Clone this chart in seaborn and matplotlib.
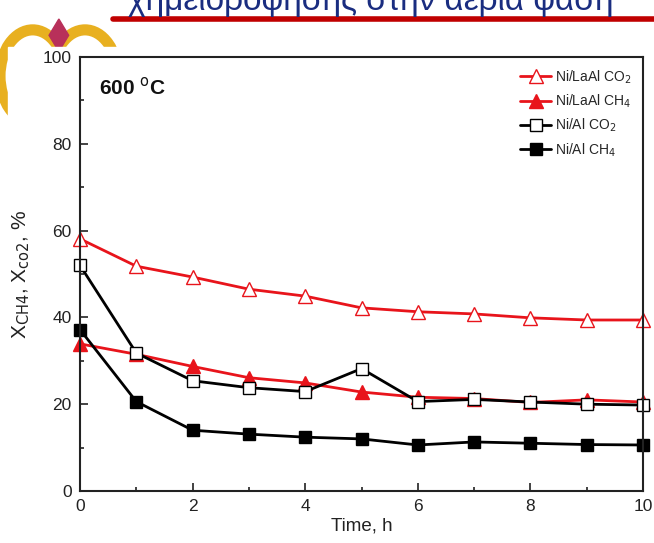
import numpy as np
import pandas as pd
import seaborn as sns
import matplotlib.pyplot as plt
from matplotlib.patches import Ellipse, Rectangle, Polygon

# data
time_h = [0, 1, 2, 3, 4, 5, 6, 7, 8, 9, 10]
lala_co2 = [58.1, 51.8, 49.3, 46.5, 44.9, 42.2, 41.3, 40.8, 39.9, 39.4, 39.4]
lala_ch4 = [33.9, 31.5, 28.7, 26.1, 24.9, 22.8, 21.6, 21.3, 20.4, 21.0, 20.5]
al_co2 = [52.0, 31.8, 25.4, 23.8, 22.9, 28.2, 20.6, 21.1, 20.5, 20.0, 19.8]
al_ch4 = [37.2, 20.6, 14.0, 13.1, 12.4, 12.0, 10.6, 11.3, 11.0, 10.7, 10.6]

series = [
    ('Ni/LaAl CO$_2$', lala_co2, '#e8141b', '^', 'white'),
    ('Ni/LaAl CH$_4$', lala_ch4, '#e8141b', '^', '#e8141b'),
    ('Ni/Al CO$_2$', al_co2, 'black', 's', 'white'),
    ('Ni/Al CH$_4$', al_ch4, 'black', 's', 'black'),
]

sns.set_style('ticks')
plt.rcParams['font.family'] = ['Liberation Sans', 'DejaVu Sans']

fig = plt.figure(figsize=(6.54, 5.43), dpi=100)

# slide decoration: header text (cut at the top like the slide), red rule, logo
fig.text(0.195, 0.982, 'χημειορόφησης στην αέρια φάση', color='#1a2d80',
         fontsize=24, ha='left', va='baseline', zorder=3)
fig.add_artist(plt.Line2D([0.173, 1.0], [0.965, 0.965], color='#c00000', lw=4,
                          transform=fig.transFigure))
for cx in [0.05, 0.13]:
    fig.add_artist(Ellipse((cx, 0.86), 0.10, 0.17, fill=False, ec='#e8b020', lw=8,
                           transform=fig.transFigure, zorder=1))
fig.add_artist(Polygon([[0.09, 0.965], [0.105, 0.935], [0.09, 0.905], [0.075, 0.935]],
                       closed=True, color='#b8305a', transform=fig.transFigure, zorder=1.1))
fig.add_artist(Rectangle((0.012, 0.0), 0.988, 0.913, color='white',
                         transform=fig.transFigure, zorder=1.5))

ax = fig.add_axes([0.1223, 0.0958, 0.8610, 0.7992])
ax.set_zorder(2)
ax.patch.set_alpha(0)

for label, vals, col, mk, face in series:
    df = pd.DataFrame({'time': time_h, 'conv': vals})
    sns.lineplot(data=df, x='time', y='conv', ax=ax, color=col, lw=2,
                 marker=mk, markersize=10 if mk == '^' else 9,
                 markerfacecolor=face, markeredgecolor=col, markeredgewidth=1,
                 label=label, clip_on=False)

ax.set_xlim(0, 10)
ax.set_ylim(0, 100)
ax.set_xticks(np.arange(0, 11, 2))
ax.set_xticks(np.arange(1, 10, 2), minor=True)
ax.set_yticks(np.arange(0, 101, 20))
ax.set_yticks(np.arange(10, 100, 20), minor=True)
ax.tick_params(direction='in', which='major', length=6, width=1.2, labelsize=12.5,
               pad=6, colors='#222222', labelcolor='#222222')
ax.tick_params(direction='in', which='minor', length=3, width=1.2, colors='#222222')
for s in ax.spines.values():
    s.set_linewidth(1.5)
    s.set_color('#222222')

ax.set_xlabel('Time, h', fontsize=13.5, labelpad=2, color='#222222')
ax.set_ylabel('X$_{\\mathrm{CH4}}$, X$_{\\mathrm{co2}}$, %', fontsize=15, labelpad=8,
              color='#222222')

ax.text(0.033, 0.93, '600 $^{\\mathrm{o}}$C', transform=ax.transAxes,
        fontsize=15, fontweight='bold', va='center', color='#111111')

ax.legend(loc='upper right', frameon=False, fontsize=10, handlelength=2.2,
          handletextpad=0.3, labelspacing=0.5, borderaxespad=0.4)

fig.savefig('out.png', dpi=100)
